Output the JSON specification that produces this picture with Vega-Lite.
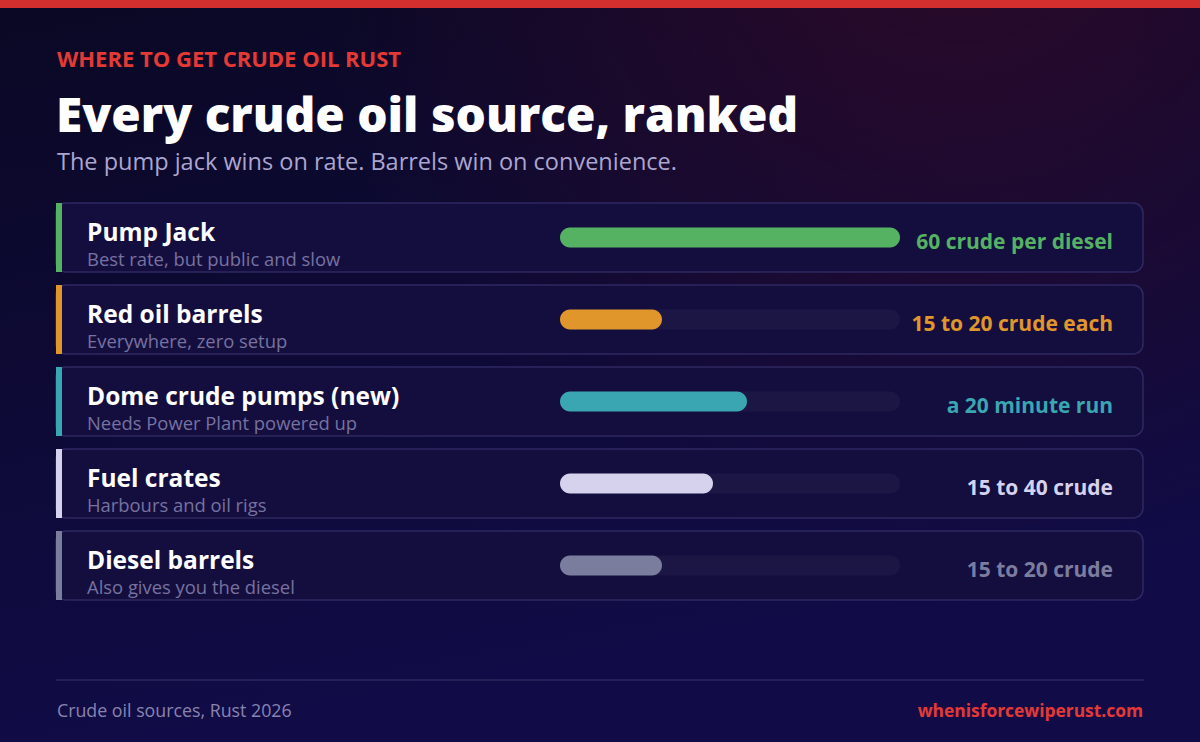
{
  "$schema": "https://vega.github.io/schema/vega-lite/v6.json",
  "width": 1200,
  "height": 742,
  "padding": 0,
  "autosize": {"type": "none"},
  "background": "#0c0a2c",
  "config": {"view": {"stroke": null}, "font": "Open Sans"},
  "datasets": {
    "sources": [
      {"source": "Pump Jack", "note": "Best rate, but public and slow", "share": 100, "label": "60 crude per diesel"},
      {"source": "Red oil barrels", "note": "Everywhere, zero setup", "share": 30, "label": "15 to 20 crude each"},
      {"source": "Dome crude pumps (new)", "note": "Needs Power Plant powered up", "share": 55, "label": "a 20 minute run"},
      {"source": "Fuel crates", "note": "Harbours and oil rigs", "share": 45, "label": "15 to 40 crude"},
      {"source": "Diesel barrels", "note": "Also gives you the diesel", "share": 30, "label": "15 to 20 crude"}
    ],
    "one": [{}]
  },
  "layer": [
    {
      "data": {"name": "one"},
      "mark": {"type": "rect", "color": {"gradient": "linear", "x1": 0, "y1": 0, "x2": 0.3, "y2": 1, "stops": [{"offset": 0, "color": "#0a0824"}, {"offset": 1, "color": "#110c48"}]}},
      "encoding": {"x": {"value": 0}, "x2": {"value": 1200}, "y": {"value": 0}, "y2": {"value": 742}}
    },
    {
      "data": {"name": "one"},
      "mark": {"type": "rect", "color": {"gradient": "radial", "x1": 0.8, "y1": 0.1, "r1": 0, "x2": 0.8, "y2": 0.1, "r2": 0.55, "stops": [{"offset": 0, "color": "rgba(62,10,40,0.65)"}, {"offset": 1, "color": "rgba(62,10,40,0)"}]}},
      "encoding": {"x": {"value": 0}, "x2": {"value": 1200}, "y": {"value": 0}, "y2": {"value": 742}}
    },
    {
      "data": {"name": "one"},
      "mark": {"type": "rect", "color": "#d32f2f"},
      "encoding": {"x": {"value": 0}, "x2": {"value": 1200}, "y": {"value": 0}, "y2": {"value": 8}}
    },
    {
      "data": {"name": "one"},
      "mark": {"type": "text", "text": "WHERE TO GET CRUDE OIL RUST", "align": "left", "baseline": "alphabetic", "fontSize": 22, "fontWeight": "bold", "color": "#e53935"},
      "encoding": {"x": {"value": 57}, "y": {"value": 67}}
    },
    {
      "data": {"name": "one"},
      "mark": {"type": "text", "text": "Every crude oil source, ranked", "align": "left", "baseline": "alphabetic", "fontSize": 47.7, "fontWeight": 800, "color": "#ffffff"},
      "encoding": {"x": {"value": 56}, "y": {"value": 132}}
    },
    {
      "data": {"name": "one"},
      "mark": {"type": "text", "text": "The pump jack wins on rate. Barrels win on convenience.", "align": "left", "baseline": "alphabetic", "fontSize": 23.5, "color": "#aba6cf"},
      "encoding": {"x": {"value": 57}, "y": {"value": 170}}
    },
    {
      "data": {"name": "sources"},
      "mark": {"type": "rect", "fill": "#140e3f", "stroke": "#2e2962", "strokeWidth": 1.5, "cornerRadius": 10},
      "encoding": {
        "y": {"field": "source", "type": "nominal", "sort": null, "axis": null, "scale": {"domain": ["Pump Jack", "Red oil barrels", "Dome crude pumps (new)", "Fuel crates", "Diesel barrels"], "range": [203, 600], "paddingInner": 0.1585, "paddingOuter": 0}},
        "x": {"value": 56},
        "x2": {"value": 1143}
      }
    },
    {
      "data": {"name": "sources"},
      "mark": {"type": "rect"},
      "encoding": {
        "y": {"field": "source", "type": "nominal", "sort": null, "axis": null, "scale": {"domain": ["Pump Jack", "Red oil barrels", "Dome crude pumps (new)", "Fuel crates", "Diesel barrels"], "range": [203, 600], "paddingInner": 0.1585, "paddingOuter": 0}},
        "x": {"value": 56},
        "x2": {"value": 62},
        "color": {"field": "source", "type": "nominal", "legend": null, "scale": {"domain": ["Pump Jack", "Red oil barrels", "Dome crude pumps (new)", "Fuel crates", "Diesel barrels"], "range": ["#56b263", "#e0962b", "#39a6b1", "#d6d2ee", "#7b7d9e"]}}
      }
    },
    {
      "data": {"name": "sources"},
      "mark": {"type": "bar", "height": 20, "cornerRadius": 10, "fill": "#1b1644"},
      "encoding": {
        "y": {"field": "source", "type": "nominal", "sort": null, "axis": null, "scale": {"domain": ["Pump Jack", "Red oil barrels", "Dome crude pumps (new)", "Fuel crates", "Diesel barrels"], "range": [203, 600], "paddingInner": 0.1585, "paddingOuter": 0}},
        "x": {"datum": 0, "type": "quantitative", "axis": null, "scale": {"domain": [0, 100], "range": [560, 900]}},
        "x2": {"datum": 100}
      }
    },
    {
      "data": {"name": "sources"},
      "mark": {"type": "bar", "height": 20, "cornerRadius": 10},
      "encoding": {
        "y": {"field": "source", "type": "nominal", "sort": null, "axis": null, "scale": {"domain": ["Pump Jack", "Red oil barrels", "Dome crude pumps (new)", "Fuel crates", "Diesel barrels"], "range": [203, 600], "paddingInner": 0.1585, "paddingOuter": 0}},
        "x": {"field": "share", "type": "quantitative", "axis": null, "scale": {"domain": [0, 100], "range": [560, 900]}},
        "x2": {"datum": 0},
        "color": {"field": "source", "type": "nominal", "legend": null, "scale": {"domain": ["Pump Jack", "Red oil barrels", "Dome crude pumps (new)", "Fuel crates", "Diesel barrels"], "range": ["#56b263", "#e0962b", "#39a6b1", "#d6d2ee", "#7b7d9e"]}}
      }
    },
    {
      "data": {"name": "sources"},
      "mark": {"type": "text", "align": "left", "baseline": "alphabetic", "fontSize": 24.5, "fontWeight": "bold", "color": "#ffffff", "dy": 3.5},
      "encoding": {
        "y": {"field": "source", "type": "nominal", "sort": null, "axis": null, "scale": {"domain": ["Pump Jack", "Red oil barrels", "Dome crude pumps (new)", "Fuel crates", "Diesel barrels"], "range": [203, 600], "paddingInner": 0.1585, "paddingOuter": 0}},
        "x": {"value": 87},
        "text": {"field": "source"}
      }
    },
    {
      "data": {"name": "sources"},
      "mark": {"type": "text", "align": "left", "baseline": "alphabetic", "fontSize": 18.4, "color": "#77729f", "dy": 28.5},
      "encoding": {
        "y": {"field": "source", "type": "nominal", "sort": null, "axis": null, "scale": {"domain": ["Pump Jack", "Red oil barrels", "Dome crude pumps (new)", "Fuel crates", "Diesel barrels"], "range": [203, 600], "paddingInner": 0.1585, "paddingOuter": 0}},
        "x": {"value": 87},
        "text": {"field": "note"}
      }
    },
    {
      "data": {"name": "sources"},
      "mark": {"type": "text", "align": "right", "baseline": "alphabetic", "fontSize": 21, "fontWeight": "bold", "dy": 11.5},
      "encoding": {
        "y": {"field": "source", "type": "nominal", "sort": null, "axis": null, "scale": {"domain": ["Pump Jack", "Red oil barrels", "Dome crude pumps (new)", "Fuel crates", "Diesel barrels"], "range": [203, 600], "paddingInner": 0.1585, "paddingOuter": 0}},
        "x": {"value": 1113},
        "text": {"field": "label"},
        "color": {"field": "source", "type": "nominal", "legend": null, "scale": {"domain": ["Pump Jack", "Red oil barrels", "Dome crude pumps (new)", "Fuel crates", "Diesel barrels"], "range": ["#56b263", "#e0962b", "#39a6b1", "#d6d2ee", "#7b7d9e"]}}
      }
    },
    {
      "data": {"name": "one"},
      "mark": {"type": "rule", "color": "#2c285e", "strokeWidth": 1.5},
      "encoding": {"x": {"value": 56}, "x2": {"value": 1144}, "y": {"value": 680}}
    },
    {
      "data": {"name": "one"},
      "mark": {"type": "text", "text": "Crude oil sources, Rust 2026", "align": "left", "baseline": "alphabetic", "fontSize": 17.8, "color": "#8884b0"},
      "encoding": {"x": {"value": 57}, "y": {"value": 717}}
    },
    {
      "data": {"name": "one"},
      "mark": {"type": "text", "text": "whenisforcewiperust.com", "align": "right", "baseline": "alphabetic", "fontSize": 17.4, "fontWeight": "bold", "color": "#e53935"},
      "encoding": {"x": {"value": 1143}, "y": {"value": 717}}
    }
  ]
}
